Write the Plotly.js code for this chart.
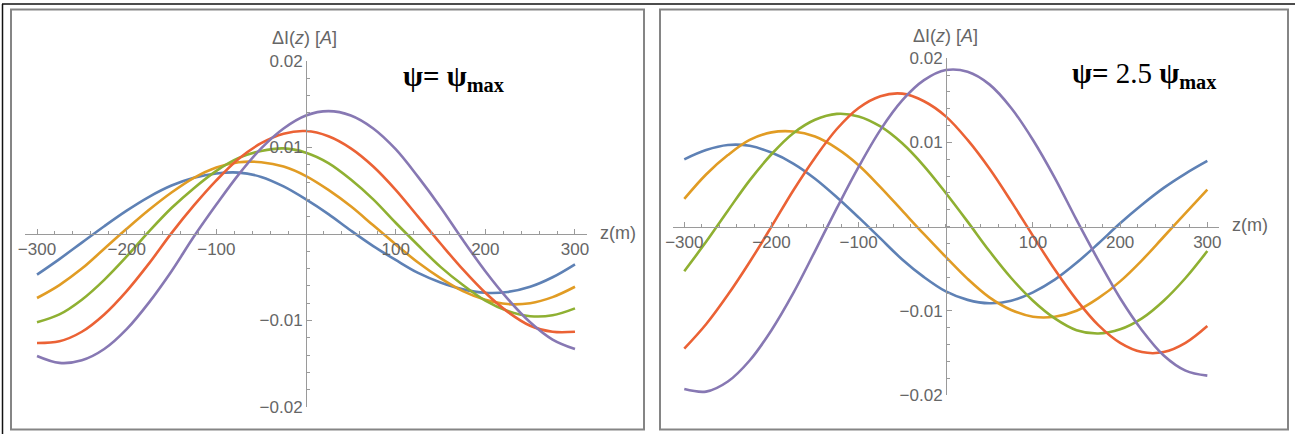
<!DOCTYPE html>
<html>
<head>
<meta charset="utf-8">
<script src="https://cdn.plot.ly/plotly-3.0.1.min.js"></script>
<style>
  html, body { margin: 0; padding: 0; background: #ffffff; }
  #chart { width: 1295px; height: 434px; }
</style>
</head>
<body>
<div id="chart"></div>
<script>
// z positions (m)
const z = [-300,-275,-250,-225,-200,-175,-150,-125,-100,-75,-50,-25,0,25,50,75,100,125,150,175,200,225,250,275,300];

// Left panel: psi = psi_max
const leftBlue   = [-0.0047,-0.0029,-0.0010,0.0009,0.0027,0.0043,0.0056,0.0065,0.0070,0.0071,0.0066,0.0055,0.0040,0.0023,0.0004,-0.0014,-0.0030,-0.0045,-0.0056,-0.0064,-0.0068,-0.0067,-0.0061,-0.0050,-0.0035];
const leftOrange = [-0.0074,-0.0059,-0.0040,-0.0017,0.0006,0.0028,0.0048,0.0065,0.0077,0.0083,0.0083,0.0078,0.0067,0.0051,0.0032,0.0010,-0.0012,-0.0033,-0.0051,-0.0066,-0.0076,-0.0081,-0.0080,-0.0073,-0.0061];
const leftGreen  = [-0.0102,-0.0093,-0.0076,-0.0053,-0.0026,0.0003,0.0030,0.0053,0.0073,0.0088,0.0096,0.0099,0.0094,0.0082,0.0063,0.0040,0.0013,-0.0013,-0.0038,-0.0059,-0.0077,-0.0089,-0.0095,-0.0094,-0.0086];
const leftRed    = [-0.0126,-0.0124,-0.0113,-0.0093,-0.0066,-0.0034,0.0001,0.0033,0.0062,0.0087,0.0105,0.0116,0.0119,0.0113,0.0099,0.0078,0.0051,0.0020,-0.0011,-0.0041,-0.0068,-0.0090,-0.0106,-0.0113,-0.0113];
const leftPurple = [-0.0141,-0.0149,-0.0146,-0.0133,-0.0110,-0.0079,-0.0043,-0.0003,0.0034,0.0069,0.0099,0.0122,0.0137,0.0142,0.0137,0.0122,0.0098,0.0066,0.0031,-0.0007,-0.0043,-0.0075,-0.0102,-0.0122,-0.0133];

// Right panel: psi = 2.5 psi_max
const rightBlue   = [0.0080,0.0091,0.0097,0.0096,0.0088,0.0075,0.0057,0.0035,0.0011,-0.0014,-0.0039,-0.0060,-0.0077,-0.0087,-0.0091,-0.0088,-0.0078,-0.0063,-0.0043,-0.0020,0.0004,0.0026,0.0046,0.0063,0.0078];
const rightOrange = [0.0033,0.0062,0.0085,0.0103,0.0112,0.0113,0.0107,0.0093,0.0073,0.0047,0.0019,-0.0009,-0.0036,-0.0062,-0.0084,-0.0099,-0.0107,-0.0107,-0.0100,-0.0085,-0.0065,-0.0040,-0.0012,0.0016,0.0044];
const rightGreen  = [-0.0053,-0.0018,0.0019,0.0055,0.0086,0.0111,0.0127,0.0134,0.0131,0.0119,0.0099,0.0072,0.0040,0.0006,-0.0029,-0.0061,-0.0088,-0.0109,-0.0123,-0.0127,-0.0122,-0.0109,-0.0088,-0.0061,-0.0029];
const rightRed    = [-0.0145,-0.0116,-0.0081,-0.0042,0.0000,0.0043,0.0082,0.0116,0.0141,0.0155,0.0158,0.0149,0.0131,0.0103,0.0069,0.0030,-0.0011,-0.0051,-0.0087,-0.0117,-0.0138,-0.0149,-0.0149,-0.0138,-0.0118];
const rightPurple = [-0.0193,-0.0196,-0.0184,-0.0159,-0.0123,-0.0079,-0.0029,0.0022,0.0071,0.0115,0.0150,0.0174,0.0186,0.0184,0.0169,0.0141,0.0103,0.0058,0.0008,-0.0040,-0.0085,-0.0123,-0.0153,-0.0171,-0.0177];

// Tick labels
const xTickVals = [-300,-200,-100,100,200,300];
const xTickText = ['\u2212300','\u2212200','\u2212100','100','200','300'];
const yTickVals = [-0.02,-0.01,0.01,0.02];
const yTickText = ['\u22120.02','\u22120.01','0.01','0.02'];

const colors = ['#5E81B5','#E19C24','#8FB032','#EB6235','#8778B3'];
const leftSeries = [leftBlue, leftOrange, leftGreen, leftRed, leftPurple];
const rightSeries = [rightBlue, rightOrange, rightGreen, rightRed, rightPurple];

const traces = [];
leftSeries.forEach((ys, i) => traces.push({
  x: z, y: ys, xaxis: 'x', yaxis: 'y', type: 'scatter', mode: 'lines',
  line: {color: colors[i], width: 2.6, shape: 'spline', smoothing: 1}, hoverinfo: 'skip'
}));
rightSeries.forEach((ys, i) => traces.push({
  x: z, y: ys, xaxis: 'x2', yaxis: 'y2', type: 'scatter', mode: 'lines',
  line: {color: colors[i], width: 2.6, shape: 'spline', smoothing: 1}, hoverinfo: 'skip'
}));

const W = 1295, H = 434;
const px = v => v / W;
const py = v => 1 - v / H;

const tickFont = {family: 'Liberation Sans, Arial, sans-serif', size: 17, color: '#666666'};
const axisColor = '#9a9a9a';

function xAxis(domain, pos) {
  return {
    domain: domain, range: [-313.4, 313.4], anchor: 'free', position: pos,
    showline: true, linecolor: axisColor, linewidth: 1,
    ticks: 'inside', ticklen: 5, tickcolor: axisColor, tickwidth: 1,
    tickmode: 'array', tickvals: xTickVals, ticktext: xTickText,
    tickfont: tickFont, showgrid: false, zeroline: false, fixedrange: true,
    minor: {dtick: 20, tick0: 0, ticks: 'inside', ticklen: 3, tickcolor: axisColor, showgrid: false}
  };
}
function yAxis(domain, pos) {
  return {
    domain: domain, range: [-0.02, 0.02], anchor: 'free', position: pos,
    showline: true, linecolor: axisColor, linewidth: 1,
    ticks: 'inside', ticklen: 5, tickcolor: axisColor, tickwidth: 1,
    tickmode: 'array', tickvals: yTickVals, ticktext: yTickText,
    tickfont: tickFont, showgrid: false, zeroline: false, fixedrange: true,
    minor: {dtick: 0.002, tick0: 0, ticks: 'inside', ticklen: 3, tickcolor: axisColor, showgrid: false}
  };
}

const labelFont = {family: 'Liberation Sans, Arial, sans-serif', size: 18, color: '#666666'};
const psiFont = {family: 'Liberation Serif, Times New Roman, serif', size: 29, color: '#000000'};

const layout = {
  width: W, height: H,
  margin: {l: 0, r: 0, t: 0, b: 0},
  paper_bgcolor: '#ffffff', plot_bgcolor: '#ffffff',
  showlegend: false, hovermode: false,
  xaxis:  xAxis([px(25), px(587)], py(234)),
  yaxis:  yAxis([py(407), py(61)], px(306)),
  xaxis2: xAxis([px(672.6), px(1219)], py(226.7)),
  yaxis2: yAxis([py(395), py(58.3)], px(946)),
  annotations: [
    {xref: 'paper', yref: 'paper', x: px(598), y: py(233), xanchor: 'left', yanchor: 'middle',
     text: 'z(m)', showarrow: false, font: labelFont},
    {xref: 'paper', yref: 'paper', x: px(1230), y: py(225), xanchor: 'left', yanchor: 'middle',
     text: 'z(m)', showarrow: false, font: labelFont},
    {xref: 'paper', yref: 'paper', x: px(304), y: py(38), xanchor: 'center', yanchor: 'middle',
     text: '\u0394I(<i>z</i>) [<i>A</i>]', showarrow: false, font: labelFont},
    {xref: 'paper', yref: 'paper', x: px(945), y: py(36), xanchor: 'center', yanchor: 'middle',
     text: '\u0394I(<i>z</i>) [<i>A</i>]', showarrow: false, font: labelFont},
    {xref: 'paper', yref: 'paper', x: px(454), y: py(78), xanchor: 'center', yanchor: 'middle',
     text: '<b>\u03C8= \u03C8<sub>max</sub></b>', showarrow: false, font: psiFont},
    {xref: 'paper', yref: 'paper', x: px(1144), y: py(75), xanchor: 'center', yanchor: 'middle',
     text: '<b>\u03C8=</b> 2.5 <b>\u03C8<sub>max</sub></b>', showarrow: false, font: psiFont}
  ],
  shapes: [
    {type: 'rect', xref: 'paper', yref: 'paper', x0: px(11), x1: px(644), y0: py(429.5), y1: py(9.5),
     line: {color: '#858585', width: 2}, fillcolor: 'rgba(0,0,0,0)', layer: 'below'},
    {type: 'rect', xref: 'paper', yref: 'paper', x0: px(660), x1: px(1288), y0: py(429.5), y1: py(9.5),
     line: {color: '#858585', width: 2}, fillcolor: 'rgba(0,0,0,0)', layer: 'below'},
    {type: 'line', xref: 'paper', yref: 'paper', x0: px(2), x1: 1, y0: py(4), y1: py(4),
     line: {color: '#111111', width: 1.5}},
    {type: 'line', xref: 'paper', yref: 'paper', x0: px(2.5), x1: px(2.5), y0: 0, y1: py(4),
     line: {color: '#111111', width: 1.5}}
  ]
};

Plotly.newPlot('chart', traces, layout, {displayModeBar: false, staticPlot: true});
</script>
</body>
</html>
